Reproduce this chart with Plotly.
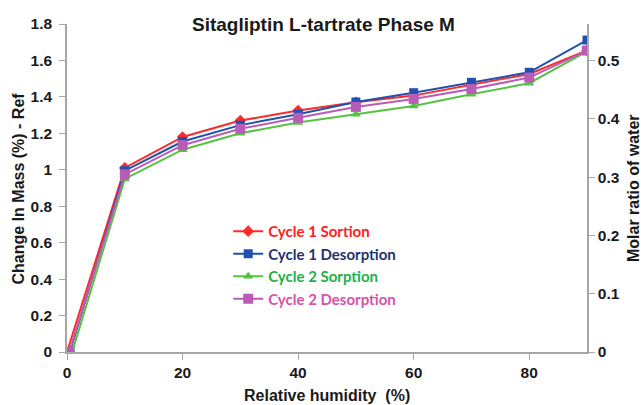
import plotly.graph_objects as go

# Data
rh_c1s = [0, 10, 20, 30, 40, 50, 60, 70, 80, 90]
rh_c1d = [0.5, 10, 20, 30, 40, 50, 60, 70, 80, 90]
rh_c2s = [0.9, 10, 20, 30, 40, 50, 60, 70, 80, 90]
rh_c2d = [0.4, 10, 20, 30, 40, 50, 60, 70, 80, 90]

cycle1_sorption = [0, 1.01, 1.18, 1.27, 1.325, 1.37, 1.407, 1.465, 1.526, 1.655]
cycle1_desorption = [0, 0.995, 1.155, 1.245, 1.305, 1.372, 1.423, 1.48, 1.535, 1.712]
cycle2_sorption = [0, 0.95, 1.11, 1.20, 1.26, 1.305, 1.35, 1.414, 1.475, 1.65]
cycle2_desorption = [0, 0.975, 1.135, 1.225, 1.285, 1.345, 1.389, 1.443, 1.506, 1.654]

names = ["Cycle 1 Sortion", "Cycle 1 Desorption", "Cycle 2 Sorption", "Cycle 2 Desorption"]
xs = [rh_c1s, rh_c1d, rh_c2s, rh_c2d]
ys = [cycle1_sorption, cycle1_desorption, cycle2_sorption, cycle2_desorption]
line_colors = ["#FF2A2A", "#2150B0", "#55C340", "#B85CB8"]
text_colors = ["#FF2020", "#23346F", "#1DB14B", "#D653A8"]
symbols = ["diamond", "square", "triangle-up", "square"]
sizes = [9, 9, 9, 10]

left_ticks = [0, 0.2, 0.4, 0.6, 0.8, 1, 1.2, 1.4, 1.6, 1.8]
right_ticks = [0, 0.1, 0.2, 0.3, 0.4, 0.5]
x_ticks = [0, 20, 40, 60, 80]

fig = go.Figure()
for x, y, n, lc, tc, s, sz in zip(xs, ys, names, line_colors, text_colors, symbols, sizes):
    fig.add_trace(go.Scatter(
        x=x, y=y, mode="lines+markers",
        name=f'<span style="color:{tc}">{n}</span>',
        line=dict(color=lc, width=2),
        marker=dict(symbol=s, size=sz, color=lc),
    ))

axis_font = dict(family="Liberation Sans, Arial", size=15.5, color="#1a1a1a", weight="bold")
common = dict(showline=True, linecolor="#A6A6A6", linewidth=1.5, ticks="outside", ticklen=6,
              tickcolor="#A6A6A6", showgrid=False, zeroline=False, tickfont=axis_font)
fig.update_layout(
    width=641, height=405,
    margin=dict(l=67, r=54, t=24, b=53),
    paper_bgcolor="white", plot_bgcolor="white",
    showlegend=True,
    legend=dict(x=0.31, y=0.418, xanchor="left", yanchor="top",
                font=dict(family="Lato", size=15, color="#000", weight="bold"),
                bgcolor="rgba(0,0,0,0)", tracegroupgap=0, itemwidth=30),
    xaxis=dict(range=[0, 90], tickvals=x_ticks, **common),
    yaxis=dict(range=[0, 1.8], tickvals=left_ticks, ticklabelstandoff=4, **common),
    yaxis2=dict(range=[0, 1.8 / 3.2], tickvals=right_ticks, overlaying="y", side="right",
                **common),
)
# invisible trace to anchor right axis
fig.add_trace(go.Scatter(x=[None], y=[None], yaxis="y2", showlegend=False, hoverinfo="skip"))

title_font = dict(family="Liberation Sans, Arial", size=16, color="#1a1a1a", weight="bold")
fig.add_annotation(text="Sitagliptin L-tartrate Phase M", xref="paper", yref="paper",
                   x=0.493, y=1.0, xanchor="center", yanchor="middle", showarrow=False,
                   font=dict(family="Liberation Sans, Arial", size=19, color="#1a1a1a",
                             weight="bold"))
fig.add_annotation(text="Relative humidity  (%)", xref="paper", yref="paper",
                   x=0.5, y=-0.134, xanchor="center", yanchor="middle", showarrow=False,
                   font=title_font)
fig.add_annotation(text="Change In Mass (%) - Ref", xref="paper", yref="paper",
                   x=-0.0933, y=0.5, xanchor="center", yanchor="middle", showarrow=False,
                   textangle=-90, font=title_font)
fig.add_annotation(text="Molar ratio of water", xref="paper", yref="paper",
                   x=1.0885, y=0.5, xanchor="center", yanchor="middle", showarrow=False,
                   textangle=-90, font=title_font)
fig.write_html("out.html")
